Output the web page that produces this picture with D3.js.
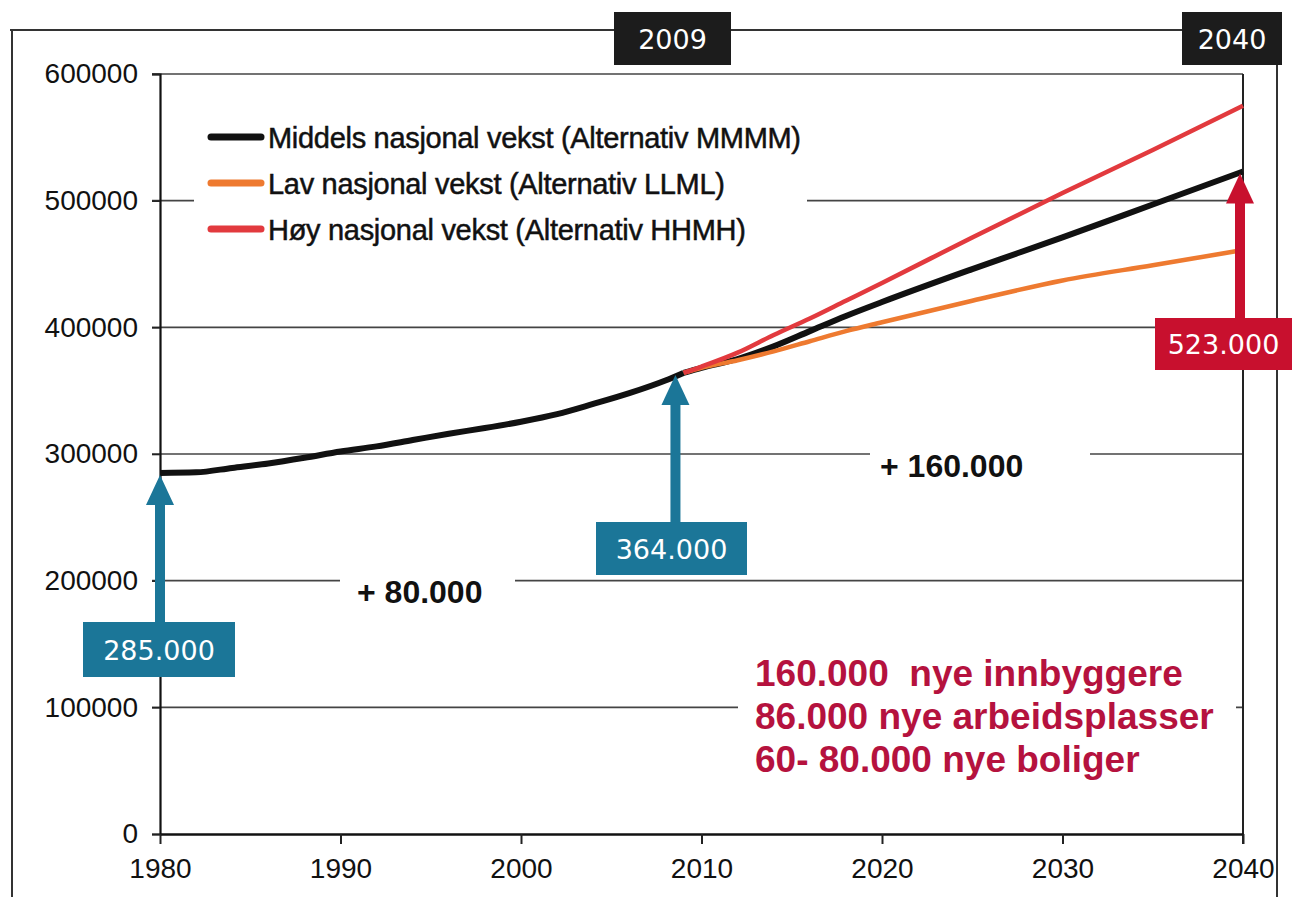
<!DOCTYPE html>
<html><head><meta charset="utf-8">
<script src="https://cdn.jsdelivr.net/npm/d3@7/dist/d3.min.js"></script>
<style>html,body{margin:0;padding:0;background:#fff;}svg{display:block;} text{white-space:pre;}</style>
</head><body>
<script>
// ---- data ----
const histYears  = [1980,1982,1984,1986,1988,1990,1992,1994,1996,1998,2000,2002,2004,2006,2008,2009];
const histValues = [285000,285500,289000,292500,297000,302000,306000,311000,316000,320500,325500,331500,339500,348000,358000,364000];
const projYears  = [2009,2010,2012,2014,2016,2018,2020,2025,2030,2035,2040];
const mmmmValues = [364000,368000,375000,385000,397000,409000,420000,446000,471000,497000,523000];
const llmlValues = [364000,368000,374000,381000,389000,397000,404000,421000,437000,449000,461000];
const hhmhValues = [364000,369000,380000,394000,407000,421000,435000,471000,506000,540000,575000];
const seriesNames = ["Middels nasjonal vekst (Alternativ MMMM)","Lav nasjonal vekst (Alternativ LLML)","Høy nasjonal vekst (Alternativ HHMH)"];
const seriesColors = ["#111111","#ee7a30","#e23a3e"];
const yTicks = [0,100000,200000,300000,400000,500000,600000];
const xTicks = [1980,1990,2000,2010,2020,2030,2040];
const markers = [
  {year:1980, value:285000, label:"285.000", color:"#1b7698"},
  {year:2009, value:364000, label:"364.000", color:"#1b7698"},
  {year:2040, value:523000, label:"523.000", color:"#c8102e"}
];
const growthLabels = [{text:"+ 80.000"},{text:"+ 160.000"}];
const noteLines = ["160.000  nye innbyggere","86.000 nye arbeidsplasser","60- 80.000 nye boliger"];
const yearFlags = ["2009","2040"];

// ---- layout ----
const W=1299,H=897;
const svg=d3.select("body").append("svg").attr("width",W).attr("height",H);
svg.append("rect").attr("width",W).attr("height",H).attr("fill","#fff");
const x=d3.scaleLinear().domain([1980,2040]).range([160,1243]);
const y=d3.scaleLinear().domain([0,600000]).range([834,74]);
const AF="'Liberation Sans',Arial,sans-serif";
const VF="'DejaVu Sans',Verdana,sans-serif";

// outer frame
const frame=svg.append("g").attr("stroke","#333").attr("stroke-width",2).attr("fill","none");
frame.append("line").attr("x1",10).attr("x2",1277).attr("y1",30).attr("y2",30);
frame.append("line").attr("x1",12).attr("x2",12).attr("y1",30).attr("y2",H);
frame.append("line").attr("x1",1277).attr("x2",1277).attr("y1",60).attr("y2",H);

// gridlines
svg.append("g").selectAll("line").data(yTicks.filter(d=>d>0)).join("line")
  .attr("x1",152).attr("x2",x(2040)).attr("y1",d=>y(d)).attr("y2",d=>y(d))
  .attr("stroke","#444").attr("stroke-width",1.6);
// right border
svg.append("line").attr("x1",x(2040)).attr("x2",x(2040)).attr("y1",y(600000)).attr("y2",y(0)+10)
  .attr("stroke","#222").attr("stroke-width",2);

// axes
const yAxis=svg.append("g").attr("transform",`translate(${x(1980)},0)`)
  .call(d3.axisLeft(y).tickValues(yTicks).tickFormat(d3.format("d")).tickSize(8).tickPadding(14));
yAxis.select(".domain").attr("stroke","#111").attr("stroke-width",2.2);
yAxis.selectAll(".tick line").attr("stroke","#222").attr("stroke-width",1.6);
yAxis.selectAll("text").attr("font-family",AF).attr("font-size",28).attr("fill","#111");
const xAxis=svg.append("g").attr("transform",`translate(0,${y(0)})`)
  .call(d3.axisBottom(x).tickValues(xTicks).tickFormat(d3.format("d")).tickSize(10).tickSizeOuter(0).tickPadding(14));
xAxis.select(".domain").attr("stroke","#111").attr("stroke-width",2.6);
xAxis.selectAll(".tick line").attr("stroke","#222").attr("stroke-width",2);
xAxis.selectAll("text").attr("font-family",AF).attr("font-size",28).attr("fill","#111");

// legend
const lg=svg.append("g");
lg.append("rect").attr("x",194).attr("y",104).attr("width",613).attr("height",152).attr("fill","#fff");
seriesNames.forEach((n,i)=>{
  const cy=137+i*46;
  lg.append("line").attr("x1",211).attr("x2",261).attr("y1",cy).attr("y2",cy)
    .attr("stroke",seriesColors[i]).attr("stroke-width",7).attr("stroke-linecap","round");
  lg.append("text").attr("x",268).attr("y",cy+11).text(n)
    .attr("font-family",AF).attr("font-size",29).attr("letter-spacing","-0.3")
    .attr("fill","#111").attr("stroke","#111").attr("stroke-width",0.5);
});

// lines
const line=d3.line().x(d=>x(d[0])).y(d=>y(d[1])).curve(d3.curveMonotoneX);
const zip=(a,b)=>a.map((v,i)=>[v,b[i]]);
svg.append("path").datum(zip(projYears,mmmmValues)).attr("d",line)
  .attr("fill","none").attr("stroke",seriesColors[0]).attr("stroke-width",6);
svg.append("path").datum(zip(projYears,llmlValues)).attr("d",line)
  .attr("fill","none").attr("stroke",seriesColors[1]).attr("stroke-width",4.5);
svg.append("path").datum(zip(projYears,hhmhValues)).attr("d",line)
  .attr("fill","none").attr("stroke",seriesColors[2]).attr("stroke-width",4.5);
svg.append("path").datum(zip(histYears,histValues)).attr("d",line)
  .attr("fill","none").attr("stroke",seriesColors[0]).attr("stroke-width",6);

// growth labels with white backgrounds
const gl=[{t:growthLabels[0].text, bx:340, bw:175, val:200000, tx:357, ty:603},
          {t:growthLabels[1].text, bx:870, bw:220, val:300000, tx:880, ty:477}];
gl.forEach(g=>{
  svg.append("rect").attr("x",g.bx).attr("y",y(g.val)-4).attr("width",g.bw).attr("height",8).attr("fill","#fff");
  svg.append("text").attr("x",g.tx).attr("y",g.ty).text(g.t)
    .attr("font-family",AF).attr("font-weight","bold").attr("font-size",32).attr("fill","#111");
});

// note block
svg.append("rect").attr("x",738).attr("y",650).attr("width",498).attr("height",135).attr("fill","#fff");
noteLines.forEach((t,i)=>{
  svg.append("text").attr("x",755).attr("y",686+i*43).text(t)
    .attr("font-family",AF).attr("font-weight","bold").attr("font-size",37).attr("fill","#b5123e");
});

// arrows and value boxes
const boxes=[{bx:83,by:622,bw:152,bh:55},{bx:596,by:522,bw:151,bh:53},{bx:1155,by:318,bw:137,bh:52}];
markers.forEach((m,i)=>{
  const b=boxes[i];
  const cx = i===1 ? x(m.year)-8 : (i===2 ? x(m.year)-3 : x(m.year));
  const tip=y(m.value)+2;
  const g=svg.append("g").attr("fill",m.color);
  g.append("rect").attr("x",cx-5).attr("y",tip+26).attr("width",10).attr("height",b.by-tip-24);
  g.append("path").attr("d",`M${cx},${tip} L${cx+14},${tip+30} L${cx-14},${tip+30} Z`);
  g.append("rect").attr("x",b.bx).attr("y",b.by).attr("width",b.bw).attr("height",b.bh);
  svg.append("text").attr("x",b.bx+b.bw/2).attr("y",b.by+b.bh/2+10).attr("text-anchor","middle")
    .text(m.label).attr("font-family",VF).attr("font-size",27).attr("fill","#fff");
});

// year flags
const flags=[{bx:614,bw:117},{bx:1182,bw:100}];
yearFlags.forEach((t,i)=>{
  const f=flags[i];
  svg.append("rect").attr("x",f.bx).attr("y",12).attr("width",f.bw).attr("height",53).attr("fill","#1c1c1c");
  svg.append("text").attr("x",f.bx+f.bw/2).attr("y",49).attr("text-anchor","middle").text(t)
    .attr("font-family",VF).attr("font-size",27).attr("fill","#fff");
});
</script>
</body></html>
